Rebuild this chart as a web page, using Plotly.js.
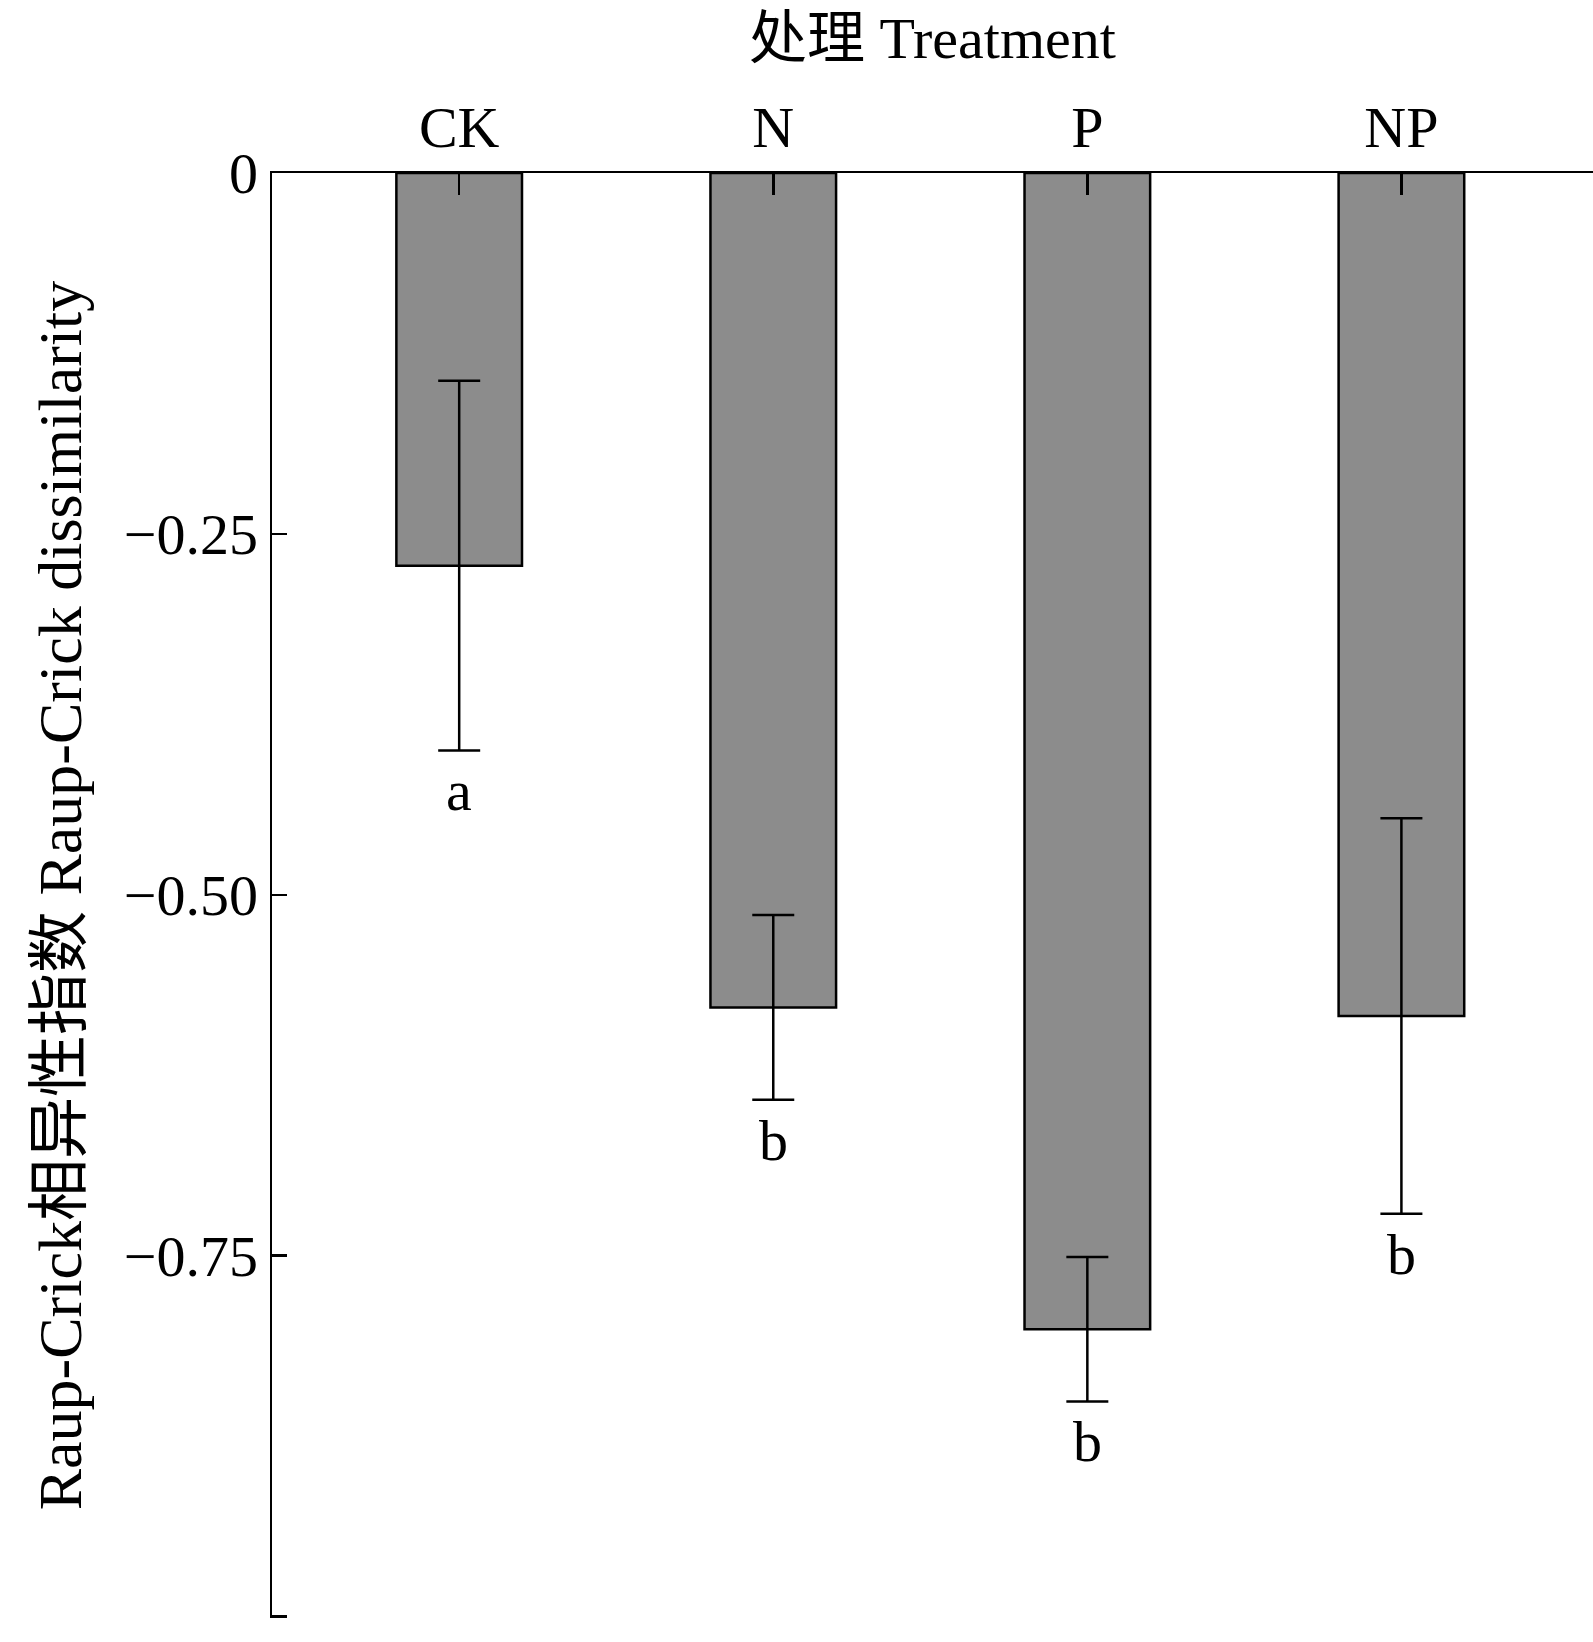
<!DOCTYPE html>
<html>
<head>
<meta charset="utf-8">
<script src="https://cdn.plot.ly/plotly-3.0.1.min.js"></script>
<style>body{margin:0;background:#fff}</style>
</head>
<body>
<div id="chart" style="width:1593px;height:1642px"></div>
<script>
const categories = ['CK', 'N', 'P', 'NP'];
const means = [-0.272, -0.578, -0.801, -0.584];
const errors = [0.128, 0.064, 0.050, 0.137];
const letters = ['a', 'b', 'b', 'b'];
const tickVals = [0, -0.25, -0.5, -0.75, -1.0];
const tickText = ['0', '\u22120.25', '\u22120.50', '\u22120.75', '\u22121.00'];

const font = 'Liberation Serif, "Noto Sans CJK SC", serif';

const trace = {
  x: categories,
  y: means,
  type: 'bar',
  width: 0.4,
  marker: { color: '#8c8c8c', line: { color: '#000', width: 2.5 } },
  error_y: { type: 'data', array: errors, visible: true, color: '#000', thickness: 2.5, width: 21 }
};

const annotations = categories.map((c, i) => ({
  x: c, y: means[i] - errors[i], text: letters[i], showarrow: false,
  yanchor: 'top', yshift: -6, font: { family: font, size: 58, color: '#000' }
}));

const layout = {
  margin: { l: 272, r: 0, t: 173, b: 24 },
  paper_bgcolor: '#fff',
  plot_bgcolor: '#fff',
  showlegend: false,
  font: { family: font, color: '#000' },
  xaxis: {
    side: 'top', range: [-0.596, 3.61], showline: true, linecolor: '#000', linewidth: 2.5,
    ticks: 'inside', ticklen: 22, tickwidth: 2.5, tickcolor: '#000',
    tickfont: { family: font, size: 58 }, showgrid: false, zeroline: false,
    title: { text: '处理 Treatment', font: { family: font, size: 58 }, standoff: 18 }
  },
  yaxis: {
    range: [-1.001, 0], showline: true, linecolor: '#000', linewidth: 2.5,
    tickvals: tickVals, ticktext: tickText, ticks: 'inside', ticklen: 15, tickwidth: 2.5,
    tickcolor: '#000', tickfont: { family: font, size: 58 }, showgrid: false, zeroline: false,
    title: { text: 'Raup-Crick相异性指数 Raup-Crick dissimilarity', font: { family: font, size: 62 }, standoff: 22 }
  },
  annotations: annotations
};

Plotly.newPlot('chart', [trace], layout, { staticPlot: true });
</script>
</body>
</html>
